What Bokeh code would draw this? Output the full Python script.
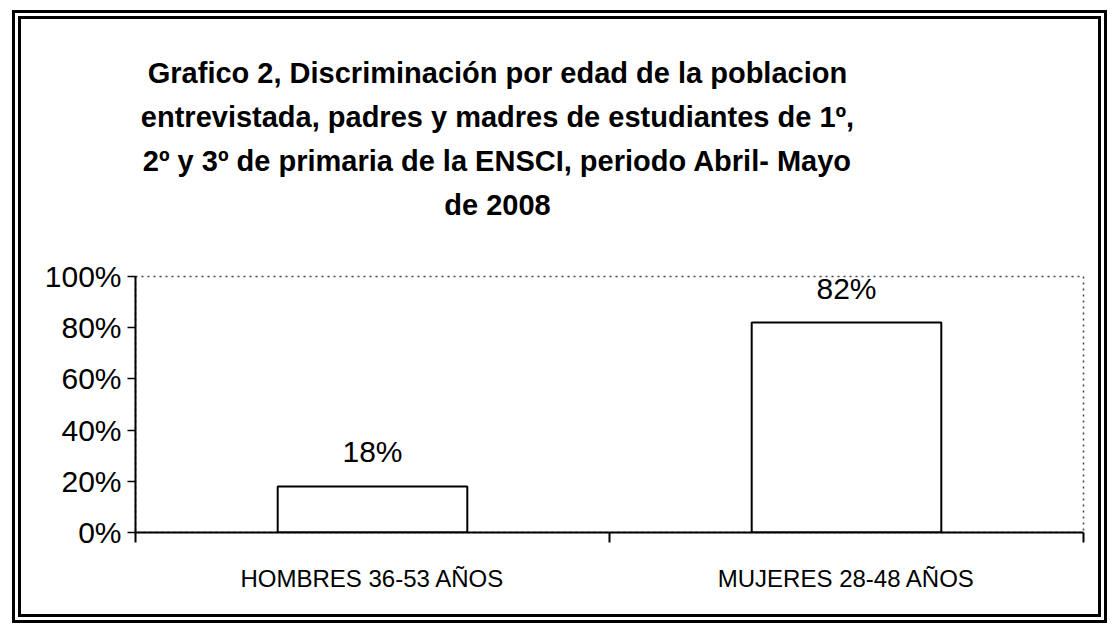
from bokeh.plotting import figure
from bokeh.models import Range1d, FixedTicker, NumeralTickFormatter, ColumnDataSource, Title
from bokeh.core.properties import value
from bokeh.embed import file_html
from bokeh.resources import INLINE

title_lines = [
    "Grafico 2, Discriminación por edad de la poblacion",
    "entrevistada, padres y madres de estudiantes de 1º,",
    "2º y 3º de primaria de la ENSCI, periodo Abril- Mayo",
    "de 2008",
]
categories = ["HOMBRES 36-53 AÑOS", "MUJERES 28-48 AÑOS"]
values = [0.18, 0.82]
value_labels = ["18%", "82%"]
y_ticks = [0, 0.2, 0.4, 0.6, 0.8, 1.0]

# advance widths (1/1000 em) of a bold Arial-metric font, to centre the title lines
BOLD_W = {" ": 278, ",": 278, "-": 333, "º": 365, "A": 722, "C": 722, "D": 722,
          "E": 667, "G": 778, "I": 278, "M": 833, "N": 722, "S": 667,
          "a": 556, "b": 611, "c": 556, "d": 611, "e": 556, "f": 333, "i": 278,
          "l": 278, "m": 889, "n": 611, "o": 611, "p": 611, "r": 389, "s": 556,
          "t": 333, "u": 611, "v": 556, "y": 556, "ó": 611}
TITLE_PX = 29
TITLE_CENTER = 362  # px from left edge of the plot frame

def text_width(s):
    return sum(BOLD_W.get(ch, 556) for ch in s) / 1000 * TITLE_PX

xs = [i + 0.5 for i in range(len(categories))]
bounds = list(range(len(categories) + 1))

src = ColumnDataSource(dict(x=xs, top=values, lab=value_labels))

p = figure(width=1095, height=613, output_backend="svg", toolbar_location=None,
           x_range=Range1d(0, len(categories)), y_range=Range1d(0, 1),
           min_border_left=114, min_border_right=33, min_border_bottom=100,
           min_border_top=257)

p.styles = {"border": "9px double #000", "margin-left": "12px", "margin-top": "10px"}
p.title.text = ""
p.title.standoff = 0

# spacer between the title block and the plot frame
p.add_layout(Title(text=" ", text_font_size="1px", standoff=48), "above")

# title lines stacked above the frame (last line nearest to the frame)
for line in reversed(title_lines):
    t = Title(text=line, align="left", offset=TITLE_CENTER - text_width(line) / 2,
              text_font="Liberation Sans", text_font_style="bold",
              text_font_size=f"{TITLE_PX}px", text_color="black", standoff=10)
    p.add_layout(t, "above")

p.vbar(x="x", top="top", bottom=0, width=0.4, source=src,
       fill_color="white", line_color="black", line_width=2)
p.text(x="x", y="top", text="lab", source=src, text_align="center",
       text_baseline="bottom", y_offset=-18,
       text_font=value("Liberation Sans"), text_font_size="30px", text_color="black")

p.xgrid.visible = False
p.ygrid.visible = False
p.outline_line_color = "#444444"
p.outline_line_dash = "dotted"
p.outline_line_width = 1.5

xa = p.xaxis[0]
xa.ticker = FixedTicker(ticks=xs, minor_ticks=bounds)
xa.major_label_overrides = {x: c for x, c in zip(xs, categories)}
xa.major_tick_out = 0
xa.major_tick_in = 0
xa.minor_tick_out = 10
xa.minor_tick_in = 0
xa.minor_tick_line_width = 2
xa.axis_line_width = 2
xa.axis_line_color = "black"
xa.major_label_standoff = 22
xa.major_label_text_font = "Liberation Sans"
xa.major_label_text_font_size = "24px"
xa.major_label_text_color = "black"

ya = p.yaxis[0]
ya.ticker = FixedTicker(ticks=y_ticks)
ya.formatter = NumeralTickFormatter(format="0%")
ya.major_tick_out = 8
ya.major_tick_in = 0
ya.minor_tick_out = 0
ya.minor_tick_in = 0
ya.major_tick_line_width = 1.5
ya.axis_line_width = 2
ya.axis_line_color = "black"
ya.major_label_standoff = 6
ya.major_label_text_font = "Liberation Sans"
ya.major_label_text_font_size = "30px"
ya.major_label_text_color = "black"

open("out.html", "w").write(file_html(p, INLINE))
